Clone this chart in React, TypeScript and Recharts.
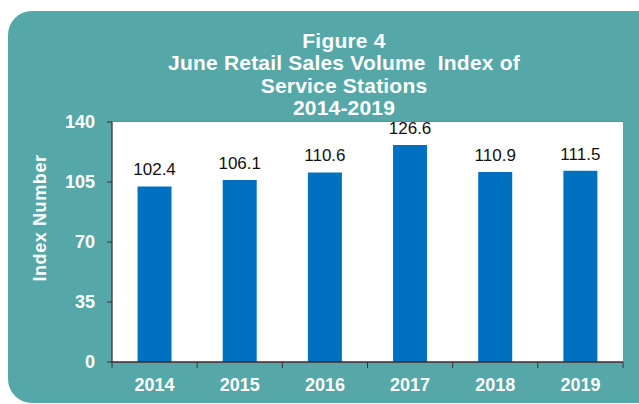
import React from 'react'
import { BarChart, Bar, XAxis, YAxis, CartesianGrid, LabelList } from 'recharts'

const years = ['2014', '2015', '2016', '2017', '2018', '2019']
const indexValues = [102.4, 106.1, 110.6, 126.6, 110.9, 111.5]
const yTicks = [0, 35, 70, 105, 140]
const titleLines = ['Figure 4', 'June Retail Sales Volume  Index of', 'Service Stations', '2014-2019']

const data = years.map((year, i) => ({ year, value: indexValues[i] }))

const FONT = '"Liberation Sans", Arial, sans-serif'
const TEAL = '#56A7A7'

const YearTick = (props: any) => {
  const { x, y, payload, index } = props
  const half = payload && payload.offset ? payload.offset : 42.6
  return (
    <g>
      <line x1={x + half} y1={y - 8} x2={x + half} y2={y - 2} stroke="#333" />
      {index === 0 && <line x1={x - half} y1={y - 8} x2={x - half} y2={y - 2} stroke="#333" />}
      <text x={x} y={y + 21} textAnchor="middle" fill="#fff" fontWeight="bold" fontSize={18} fontFamily={FONT}>
        {payload.value}
      </text>
    </g>
  )
}

export default function App() {
  return (
    <div style={{ position: 'absolute', left: 0, top: 0, width: 639, height: 404, background: '#fff', overflow: 'hidden' }}>
      <div style={{ position: 'absolute', left: 8, top: 11, width: 660, height: 392, background: TEAL, borderRadius: 24 }} />
      <div
        style={{
          position: 'absolute', left: 0, top: 30, width: 688, textAlign: 'center', color: '#fff',
          fontFamily: FONT, fontWeight: 'bold', fontSize: 21, lineHeight: '22.4px', letterSpacing: 0.2, whiteSpace: 'pre',
        }}
      >
        {titleLines.map((t) => (
          <div key={t}>{t}</div>
        ))}
      </div>
      <div
        style={{
          position: 'absolute', left: 40, top: 218, transform: 'translate(-50%, -50%) rotate(-90deg)',
          color: '#fff', fontFamily: FONT, fontWeight: 'bold', fontSize: 18, letterSpacing: 0.6, whiteSpace: 'nowrap',
        }}
      >
        Index Number
      </div>
      <div style={{ position: 'absolute', left: 0, top: 0 }}>
        <BarChart width={639} height={404} data={data} margin={{ top: 122, right: 16, bottom: 12, left: 52 }} barCategoryGap="30%">
          <rect x={112} y={122} width={511} height={240} fill="#fff" />
          <CartesianGrid vertical={false} stroke="#7f7f7f" strokeWidth={1.3} />
          <XAxis
            dataKey="year"
            height={30}
            axisLine={{ stroke: '#333', strokeWidth: 1.3 }}
            tickLine={false}
            tick={<YearTick />}
            interval={0}
          />
          <YAxis
            domain={[0, 140]}
            ticks={yTicks}
            width={60}
            axisLine={{ stroke: '#333', strokeWidth: 1.3 }}
            tickLine={{ stroke: '#333' }}
            tickSize={5}
            tickMargin={12}
            tick={{ fill: '#fff', fontWeight: 'bold', fontSize: 18, fontFamily: FONT }}
          />
          <Bar dataKey="value" fill="#0070C0" isAnimationActive={false}>
            <LabelList dataKey="value" position="top" offset={11} fill="#111" fontSize={17} fontFamily={FONT} formatter={(v: any) => Number(v).toFixed(1)} />
          </Bar>
        </BarChart>
      </div>
    </div>
  )
}
